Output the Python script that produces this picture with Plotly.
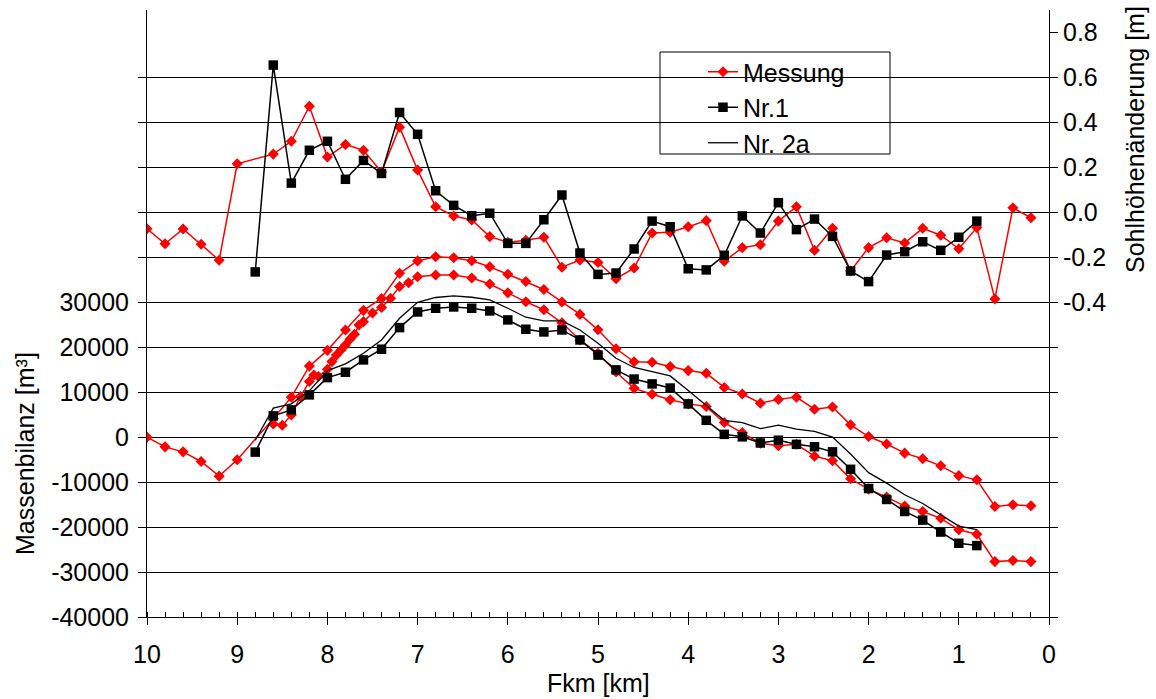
import plotly.graph_objects as go

# ---------------- data ----------------
# Sohlhöhenänderung [m] (right axis)
km_mess = [10.0, 9.8, 9.6, 9.4, 9.2, 9.0, 8.6, 8.4, 8.2, 8.0, 7.8, 7.6, 7.4, 7.2, 7.0, 6.8, 6.6, 6.4,
           6.2, 6.0, 5.8, 5.6, 5.4, 5.2, 5.0, 4.8, 4.6, 4.4, 4.2, 4.0, 3.8, 3.6, 3.4, 3.2, 3.0,
           2.8, 2.6, 2.4, 2.2, 2.0, 1.8, 1.6, 1.4, 1.2, 1.0, 0.8, 0.6, 0.4, 0.2]
sohle_mess = [-0.073, -0.140, -0.074, -0.142, -0.213, 0.216, 0.259, 0.316, 0.472, 0.246, 0.302,
              0.276, 0.179, 0.379, 0.188, 0.025, -0.016, -0.034, -0.108, -0.133, -0.124, -0.111,
              -0.244, -0.212, -0.223, -0.295, -0.248, -0.092, -0.089, -0.064, -0.037, -0.218,
              -0.157, -0.144, -0.039, 0.025, -0.169, -0.071, -0.261, -0.157, -0.113, -0.136,
              -0.071, -0.102, -0.162, -0.068, -0.385, 0.020, -0.024]

km_sim = [8.8, 8.6, 8.4, 8.2, 8.0, 7.8, 7.6, 7.4, 7.2, 7.0, 6.8, 6.6, 6.4, 6.2, 6.0, 5.8, 5.6,
          5.4, 5.2, 5.0, 4.8, 4.6, 4.4, 4.2, 4.0, 3.8, 3.6, 3.4, 3.2, 3.0, 2.8, 2.6, 2.4, 2.2,
          2.0, 1.8, 1.6, 1.4, 1.2, 1.0, 0.8]
sohle_nr1 = [-0.265, 0.655, 0.130, 0.276, 0.316, 0.147, 0.231, 0.173, 0.444, 0.347, 0.096, 0.031,
             -0.015, -0.004, -0.138, -0.138, -0.033, 0.077, -0.181, -0.276, -0.270, -0.163,
             -0.039, -0.064, -0.251, -0.256, -0.191, -0.016, -0.092, 0.043, -0.077, -0.030,
             -0.107, -0.261, -0.308, -0.190, -0.175, -0.131, -0.169, -0.111, -0.039]

# Massenbilanz [m³] (left axis)
mass_mess_a = [0, -2160, -3270, -5410, -8670, -5040, 4100, 8900, 15800, 19300, 23840, 28200,
               30850, 36440, 39200, 40130, 39900, 39250, 37910, 36250, 34620, 32850, 30060,
               27300, 23900, 19660, 16760, 16650, 15690, 14800, 14200, 11060, 9590, 7560, 8400,
               8900, 6220, 6700, 2730, 130, -1520, -3560, -4820, -6380, -8560, -9490, -15420,
               -15040, -15270]

km_mess_b = [8.6, 8.5, 8.4, 8.3, 8.2, 8.15, 8.1, 8.0, 7.95, 7.9, 7.85, 7.8, 7.75, 7.7, 7.65, 7.6,
             7.5, 7.4, 7.3, 7.2, 7.1, 7.0, 6.8, 6.6, 6.4, 6.2, 6.0, 5.8, 5.6, 5.4, 5.2, 5.0,
             4.8, 4.6, 4.4, 4.2, 4.0, 3.8, 3.6, 3.4, 3.2, 3.0, 2.8, 2.6, 2.4, 2.2, 2.0, 1.8,
             1.6, 1.4, 1.2, 1.0, 0.8, 0.6, 0.4, 0.2]
mass_mess_b = [2950, 2660, 4950, 9030, 12360, 13840, 13470, 15110, 16800, 18290, 19400, 20500,
               21800, 22890, 24960, 25690, 27620, 28850, 30890, 33500, 34360, 35690, 36070,
               36070, 35400, 34070, 32100, 30100, 28320, 25430, 21620, 18670, 14500, 10850,
               9550, 8330, 7400, 6800, 3250, 1000, -1340, -1900, -1600, -4230, -5230, -9270,
               -11560, -13330, -15340, -16530, -18050, -20600, -21600, -27680, -27420, -27680]

mass_nr1 = [-3330, 4730, 6070, 9400, 13240, 14440, 17180, 19560, 24360, 27840, 28670, 28960,
            28670, 28070, 26070, 24000, 23400, 23840, 21620, 18250, 14960, 12920, 11840, 10920,
            7400, 3740, 620, 70, -1300, -680, -1600, -2130, -3270, -7150, -11420, -13860,
            -16530, -18450, -21110, -23600, -24120]

mass_nr2a = [-700, 6440, 7400, 10300, 14800, 16290, 18670, 21620, 26440, 30000, 31060, 31400,
             31110, 30510, 28670, 26670, 25840, 25840, 23840, 20900, 17550, 15500, 14590, 13620,
             10360, 7000, 3740, 3250, 1900, 2660, 1780, 1300, 30, -3750, -7890, -10220, -12820,
             -14750, -17270, -19790, -20570]

x_ticks = [10, 9, 8, 7, 6, 5, 4, 3, 2, 1, 0]
left_tickvals = [-40000, -30000, -20000, -10000, 0, 10000, 20000, 30000,
                 40000, 50000, 60000, 70000, 80000]
left_ticktext = ["-40000", "-30000", "-20000", "-10000", "0", "10000", "20000", "30000",
                 "", "", "", "", ""]
right_tickvals = [-1.8, -1.6, -1.4, -1.2, -1.0, -0.8, -0.6, -0.4, -0.2, 0.0, 0.2, 0.4, 0.6, 0.8]
right_ticktext = ["", "", "", "", "", "", "", "-0.4", "-0.2", "0.0", "0.2", "0.4", "0.6", "0.8"]

# ---------------- figure ----------------
RED = "#FF0000"
FONT = "Arial, Liberation Sans, sans-serif"
FS = 25

fig = go.Figure()

red_line = dict(color=RED, width=1.5)
red_marker = dict(symbol="diamond", size=8.5, color=RED)
blk_line = dict(color="black", width=1.5)
blk_marker = dict(symbol="square", size=9.5, color="black")

fig.add_trace(go.Scatter(x=km_mess, y=sohle_mess, yaxis="y2", mode="lines+markers",
                         line=red_line, marker=red_marker, name="Messung", showlegend=True))
fig.add_trace(go.Scatter(x=km_mess, y=mass_mess_a, mode="lines+markers",
                         line=red_line, marker=red_marker, name="Messung", showlegend=False))
fig.add_trace(go.Scatter(x=km_mess_b, y=mass_mess_b, mode="lines+markers",
                         line=red_line, marker=red_marker, name="Messung", showlegend=False))
fig.add_trace(go.Scatter(x=km_sim, y=sohle_nr1, yaxis="y2", mode="lines+markers",
                         line=blk_line, marker=blk_marker, name="Nr.1", showlegend=True))
fig.add_trace(go.Scatter(x=km_sim, y=mass_nr1, mode="lines+markers",
                         line=blk_line, marker=blk_marker, name="Nr.1", showlegend=False))
fig.add_trace(go.Scatter(x=km_sim, y=mass_nr2a, mode="lines",
                         line=dict(color="black", width=1.3), name="Nr. 2a", showlegend=True))

tickfont = dict(family=FONT, size=FS, color="black")

fig.update_layout(
    width=1156, height=699,
    margin=dict(l=147, r=107, t=10, b=82),
    paper_bgcolor="white", plot_bgcolor="white",
    font=dict(family=FONT, size=FS, color="black"),
    xaxis=dict(range=[10, 0], tickvals=x_ticks, ticktext=[str(v) for v in x_ticks],
               ticks="outside", ticklen=7, tickwidth=1, tickcolor="black",
               showline=True, linecolor="black", linewidth=1, showgrid=False,
               zeroline=False, tickfont=tickfont, ticklabelstandoff=8,
               minor=dict(dtick=0.2, tick0=0, ticks="inside", ticklen=5,
                          tickcolor="black", tickwidth=1, showgrid=False)),
    yaxis=dict(range=[-40000, 95000], tickvals=left_tickvals, ticktext=left_ticktext,
               ticks="outside", ticklen=8, tickcolor="black", showline=True,
               linecolor="black", linewidth=1, showgrid=True, gridcolor="black",
               gridwidth=1, zeroline=False, tickfont=tickfont, ticklabelstandoff=4),
    yaxis2=dict(range=[-1.8, 0.9], overlaying="y", side="right",
                tickvals=right_tickvals, ticktext=right_ticktext,
                ticks="outside", ticklen=8, tickcolor="black", showline=True,
                linecolor="black", linewidth=1, showgrid=False, zeroline=False,
                tickfont=tickfont),
    legend=dict(x=(703 - 147) / 902, y=(617 - 49) / 607, xanchor="left", yanchor="top",
                bgcolor="rgba(0,0,0,0)", borderwidth=0, font=dict(family=FONT, size=FS),
                traceorder="normal", itemwidth=30),
    showlegend=True,
)

# legend frame
fig.add_shape(type="rect", xref="paper", yref="paper", layer="between",
              x0=(660 - 147) / 902, x1=(890 - 147) / 902,
              y0=(617 - 154) / 607, y1=(617 - 52) / 607,
              line=dict(color="black", width=1), fillcolor="white")

# axis titles
fig.add_annotation(text="Massenbilanz [m³]", xref="paper", yref="paper",
                   x=(25 - 147) / 902, y=(617 - 454) / 607, textangle=-90,
                   showarrow=False, font=dict(family=FONT, size=FS, color="black"),
                   xanchor="center", yanchor="middle")
fig.add_annotation(text="Sohlhöhenänderung [m]", xref="paper", yref="paper",
                   x=(1135 - 147) / 902, y=(617 - 140) / 607, textangle=-90,
                   showarrow=False, font=dict(family=FONT, size=FS, color="black"),
                   xanchor="center", yanchor="middle")
fig.add_annotation(text="Fkm [km]", xref="paper", yref="paper",
                   x=(598 - 147) / 902, y=(617 - 683) / 607,
                   showarrow=False, font=dict(family=FONT, size=FS, color="black"),
                   xanchor="center", yanchor="middle")

fig.write_html("out.html", config={"displayModeBar": False},
               post_script="document.body.style.margin='0';document.body.style.padding='0';")
